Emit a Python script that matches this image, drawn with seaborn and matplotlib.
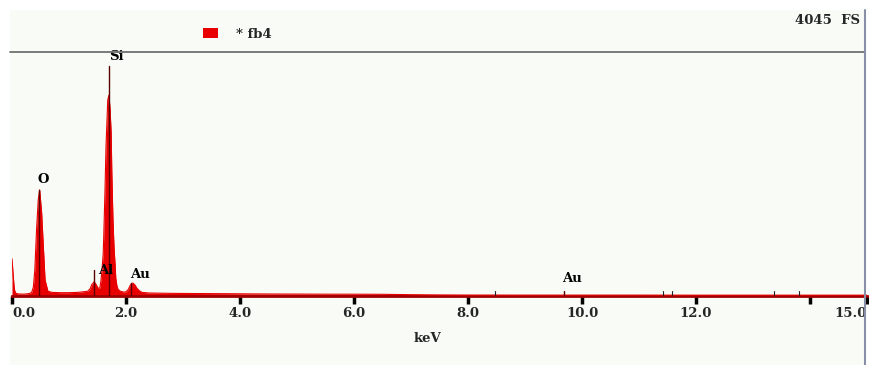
#!/usr/bin/env python3

import matplotlib
matplotlib.use("Agg")
import matplotlib.pyplot as plt
from matplotlib.lines import Line2D
from matplotlib.patches import Rectangle
import seaborn as sns

# EDS spectrum (keV, counts)
energy = [0.00, 0.02, 0.04, 0.06, 0.10, 0.20, 0.30, 0.345, 0.375, 0.40,
          0.433, 0.46, 0.485, 0.52, 0.55, 0.58, 0.63, 0.70, 0.85, 1.00,
          1.15, 1.30, 1.33, 1.37, 1.40, 1.44, 1.47, 1.51, 1.54, 1.56,
          1.58, 1.60, 1.61, 1.63, 1.65, 1.67, 1.68, 1.70, 1.72, 1.74,
          1.75, 1.77, 1.79, 1.81, 1.82, 1.84, 1.86, 1.90, 1.96, 2.00,
          2.04, 2.07, 2.10, 2.12, 2.16, 2.19, 2.23, 2.28, 2.40, 2.70,
          3.00, 3.40, 3.80, 4.20, 4.60, 5.00, 5.50, 6.00, 6.50, 7.00,
          7.50, 8.00, 9.00, 10.00, 11.00, 12.00, 13.00, 14.00, 15.00]
counts = [620, 350, 120, 50, 35, 30, 40, 60, 150, 430,
          1140, 1590, 1760, 1380, 815, 265, 80, 60, 55, 55,
          60, 75, 80, 120, 190, 235, 200, 130, 130, 250,
          450, 700, 1000, 1700, 2500, 3000, 3250, 3330, 3100, 2700,
          2100, 1300, 800, 500, 300, 170, 110, 80, 65, 70,
          110, 170, 210, 215, 180, 130, 90, 60, 50, 45,
          42, 40, 38, 35, 33, 32, 30, 30, 28, 22,
          18, 16, 15, 15, 15, 14, 14, 14, 14]

# element markers: label, keV, marker top, label position
peak_names = ["O", "Al", "Si", "Au", "Au"]
peak_kev = [0.48, 1.44, 1.70, 2.09, 9.68]
marker_top = [1760, 430, 3810, 215, 90]
label_x = [0.54, 1.65, 1.84, 2.25, 9.82]
label_y = [1820, 315, 3860, 250, 180]

# small line markers along the baseline
minor_kev = [8.47, 11.42, 11.58, 13.37, 13.81]

tick_pos = [0, 2, 4, 6, 8, 10, 12, 14, 15]
tick_text = ["0.0", "2.0", "4.0", "6.0", "8.0", "10.0", "12.0", "", "15.0"]

full_scale = 4045
red = "#e80000"
fs = 9.5

W, H = 869, 365
sns.set_theme(style="white")
plt.rcParams["font.family"] = ["DejaVu Serif"]
plt.rcParams["font.weight"] = "bold"

fig = plt.figure(figsize=(W / 100, H / 100), dpi=100, facecolor="white")

def fx(px):
    return px / W

def fy(py):
    return 1 - py / H

# faint panel background
fig.add_artist(Rectangle((fx(10), 0), fx(854), fy(10), transform=fig.transFigure,
                         facecolor="#f9fcf6", edgecolor="none", zorder=0))

ax = fig.add_axes([fx(12), 69 / H, fx(855), 244 / H])
ax.set_facecolor("none")

ax.fill_between(energy, counts, 0, color=red, linewidth=0, zorder=2)
sns.lineplot(x=energy, y=counts, color=red, linewidth=0.8, ax=ax, zorder=3)

for e, top in zip(peak_kev, marker_top):
    ax.plot([e, e], [0, top], color="#5a0000", linewidth=1.0, zorder=4)
for e in minor_kev:
    ax.plot([e, e], [0, 90], color="#222222", linewidth=0.8, zorder=4)
for name, lx, ly in zip(peak_names, label_x, label_y):
    ax.text(lx, ly, name, ha="center", va="bottom", fontsize=fs,
            fontweight="bold", color="black", zorder=5)

ax.set_xlim(0, 15)
ax.set_ylim(0, full_scale)
for side in ["top", "right", "left"]:
    ax.spines[side].set_visible(False)
ax.spines["bottom"].set_color("#a00000")
ax.spines["bottom"].set_linewidth(2)
ax.set_yticks([])
ax.set_xticks(tick_pos)
ax.set_xticklabels(tick_text, fontsize=fs, fontweight="bold")
ax.tick_params(axis="x", direction="out", length=6, width=2.5, color="black",
               pad=2, bottom=True)
labels = ax.get_xticklabels()
labels[0].set_ha("left")
labels[0].set_x(-0.04)
labels[-1].set_ha("right")
ax.set_xlabel("")
ax.set_ylabel("")

# frame lines
fig.add_artist(Line2D([fx(10), fx(864)], [fy(52), fy(52)], transform=fig.transFigure,
                      color="#707070", linewidth=1.3))
fig.add_artist(Line2D([fx(865), fx(865)], [fy(10), 0], transform=fig.transFigure,
                      color="#8890a8", linewidth=1.5))

# legend and headers
fig.add_artist(Rectangle((fx(203), fy(38)), fx(15), 10 / H, transform=fig.transFigure,
                         facecolor=red, edgecolor="none"))
fig.text(fx(236), fy(34), "* fb4", ha="left", va="center", fontsize=fs, fontweight="bold")
fig.text(fx(860), fy(20), "4045  FS", ha="right", va="center", fontsize=fs, fontweight="bold")
fig.text(fx(427), fy(338), "keV", ha="center", va="center", fontsize=fs, fontweight="bold")

fig.savefig("out.png", dpi=100, facecolor="white")
